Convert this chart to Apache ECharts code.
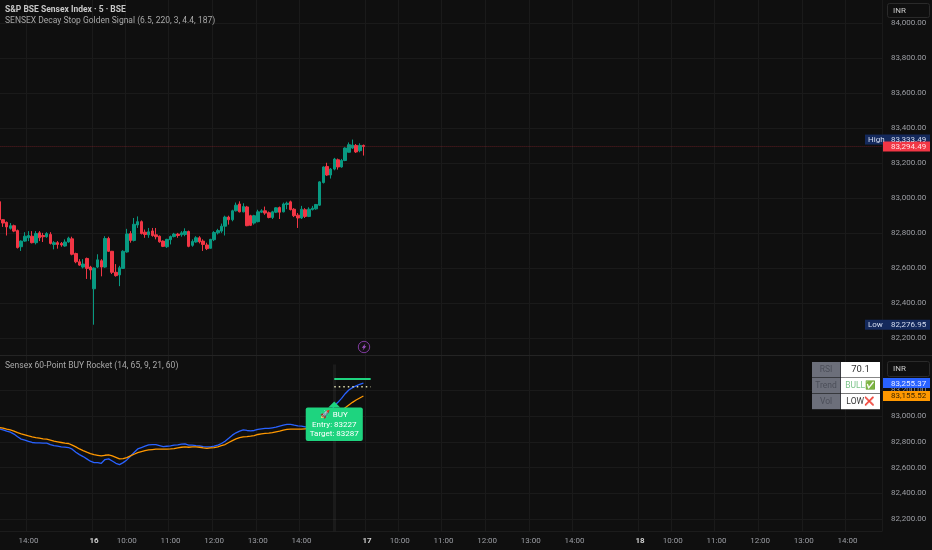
<!DOCTYPE html>
<html><head><meta charset="utf-8">
<style>html,body{margin:0;padding:0;background:#0f0f0f}#c{width:932px;height:550px}</style>
<script src="https://cdn.jsdelivr.net/npm/echarts@6/dist/echarts.min.js"></script>
</head><body><div id="c"></div>
<script>
const opens=[82979,82876,82861,82827,82842,82814,82722,82754,82773,82782,82745,82801,82786,82779,82792,82735,82745,82741,82726,82749,82767,82683,82636,82606,82655,82606,82482,82606,82642,82606,82769,82696,82576,82561,82598,82692,82797,82758,82846,82865,82805,82790,82812,82790,82782,82754,82722,82762,82780,82794,82790,82792,82809,82730,82749,82773,82754,82732,82713,82762,82801,82811,82839,82891,82876,82927,82966,82921,82949,82899,82857,82865,82919,82927,82916,82889,82919,82946,82921,82963,82978,82936,82902,82886,82933,82895,82934,82938,82959,83088,83180,83131,83165,83218,83177,83214,83261,83285,83300,83270,83300];
const closes=[82876,82857,82835,82842,82811,82717,82754,82782,82786,82745,82797,82773,82779,82797,82741,82745,82735,82732,82749,82771,82679,82636,82617,82623,82598,82589,82600,82647,82606,82769,82696,82576,82557,82602,82696,82795,82758,82850,82865,82797,82792,82807,82786,82779,82750,82724,82764,82780,82794,82786,82801,82809,82724,82752,82773,82750,82735,82711,82764,82803,82814,82839,82891,82876,82927,82959,82921,82951,82842,82844,82899,82921,82927,82914,82889,82921,82944,82919,82966,82970,82934,82899,82886,82936,82895,82936,82942,82963,83092,83177,83131,83165,83222,83177,83214,83285,83304,83302,83263,83300,83294.49];
const lows=[82870,82835,82786,82820,82805,82712,82698,82750,82754,82741,82735,82754,82749,82773,82735,82707,82711,82722,82722,82745,82673,82628,82613,82598,82538,82535,82276.95,82600,82553,82602,82692,82566,82551,82497,82595,82688,82745,82752,82829,82792,82773,82773,82779,82764,82745,82720,82715,82735,82775,82773,82779,82782,82719,82722,82745,82741,82698,82703,82711,82754,82792,82801,82786,82848,82867,82923,82918,82918,82839,82840,82848,82861,82914,82904,82884,82880,82914,82880,82918,82936,82929,82891,82829,82880,82886,82891,82929,82933,82955,83083,83126,83111,83158,83162,83173,83210,83259,83280,83257,83261,83242];
const highs=[82985,82880,82866,82857,82848,82820,82758,82805,82811,82811,82811,82811,82801,82805,82805,82754,82754,82749,82764,82779,82779,82688,82651,82651,82660,82613,82604,82679,82651,82782,82779,82698,82623,82613,82702,82824,82811,82886,82895,82872,82820,82829,82829,82829,82786,82758,82767,82786,82801,82801,82811,82827,82814,82764,82782,82782,82764,82745,82767,82811,82824,82854,82899,82899,82933,82974,82981,82970,82955,82904,82904,82933,82936,82951,82923,82927,82947,82951,82974,82979,82985,82942,82914,82955,82942,82947,82955,82966,83096,83180,83201,83171,83229,83225,83223,83289,83317,83333.49,83308,83312,83305];
const fastLine=[82901,82893,82883,82875,82860,82839,82821,82813,82803,82795,82792,82792,82790,82790,82779,82771,82766,82761,82759,82756,82743,82720,82701,82686,82668,82650,82639,82639,82634,82663,82668,82652,82634,82624,82639,82660,82688,82717,82745,82756,82766,82776,82779,82779,82771,82763,82766,82769,82774,82776,82782,82784,82774,82774,82771,82769,82763,82761,82761,82766,82774,82787,82805,82828,82852,82870,82883,82893,82888,82885,82888,82896,82901,82904,82904,82909,82914,82922,82929,82935,82935,82929,82924,82922,82916,82916,82919,82924,82942,82968,83002,83028,83080,83106,83137,83173,83202,83220,83233,83246,83255.37];
const slowLine=[82911,82906,82898,82893,82883,82872,82862,82854,82846,82839,82833,82828,82823,82821,82813,82805,82800,82795,82790,82787,82774,82761,82745,82732,82720,82709,82701,82696,82691,82696,82699,82691,82680,82668,82670,82678,82691,82704,82717,82725,82732,82737,82740,82743,82743,82743,82743,82745,82748,82753,82758,82761,82758,82761,82761,82758,82753,82750,82753,82756,82761,82771,82779,82795,82810,82823,82833,82839,82841,82844,82849,82857,82862,82865,82867,82872,82878,82883,82891,82896,82898,82898,82898,82898,82901,82904,82906,82911,82922,82937,82955,82974,82992,83015,83038,83064,83085,83106,83124,83140,83155.52];
const tickIndex=[8,26,35,47,59,71,83,101,110,122,134,146,158,176,185,197,209,221,233];
const tickText=['14:00','16','10:00','11:00','12:00','13:00','14:00','17','10:00','11:00','12:00','13:00','14:00','18','10:00','11:00','12:00','13:00','14:00'];
const boldTicks=['16','17','18'];
const barCount=243;
const signalIndex=92, signalEnd=102, entryPrice=83227, targetPrice=83287;
const lastPrice=83294.49, highPrice=83333.49, lowPrice=82276.95, fastLast=83255.37, slowLast=83155.52;
const tableRows=[['RSI','70.1'],['Trend','BULL✅'],['Vol','LOW❌']];

const FONT='Roboto, "Liberation Sans", sans-serif';
const categories=Array.from({length:barCount},(_,i)=>String(i));
const tickMap=new Map(tickIndex.map((k,i)=>[k,tickText[i]]));
const GRID='#1a1a1a', TXT='#9c9ea4';
const chart=echarts.init(document.getElementById('c'),null,{width:932,height:550});
const L=-2.42,W=884.5;
const hiddenX=(g)=>({type:'category',gridIndex:g,data:categories,show:false});
const fmt=v=>v.toLocaleString('en-US',{minimumFractionDigits:2,maximumFractionDigits:2});
const yAx=(g,min,max)=>({type:'value',gridIndex:g,position:'right',min,max,interval:200,scale:true,
  axisLine:{show:false},axisTick:{show:false},
  axisLabel:{show:true,margin:9,color:TXT,fontSize:8,fontFamily:FONT,showMinLabel:false,showMaxLabel:false,formatter:fmt},
  splitLine:{show:true,showMinLine:false,showMaxLine:false,lineStyle:{color:GRID,width:1}}});
chart.setOption({
  animation:false,backgroundColor:'#0f0f0f',
  grid:[
    {left:L,width:W,top:-12.3,height:385.55,outerBoundsMode:'none'},
    {left:L,width:W,top:364.4,height:180.7,outerBoundsMode:'none'},
    {left:L,width:W,top:0,height:531,outerBoundsMode:'none'}
  ],
  xAxis:[hiddenX(0),hiddenX(1),{
    type:'category',gridIndex:2,data:categories,position:'bottom',
    axisLine:{show:true,lineStyle:{color:'#1c1c1c'}},axisTick:{show:false},
    splitLine:{show:true,interval:i=>tickMap.has(i),lineStyle:{color:GRID}},
    axisLabel:{show:true,interval:i=>tickMap.has(i),margin:6,fontSize:8,fontFamily:FONT,hideOverlap:false,
      formatter:(v,i)=>{const t=tickMap.get(i)||'';return boldTicks.includes(t)?'{b|'+t+'}':'{n|'+t+'}';},
      rich:{n:{color:TXT,fontSize:8,fontFamily:FONT},b:{color:'#d0d0d0',fontSize:8,fontWeight:'bold',fontFamily:FONT}}}
  }],
  yAxis:[yAx(0,82000,84200),yAx(1,82000,83400),{type:'value',gridIndex:2,show:false,min:0,max:1}],
  series:[
    {type:'candlestick',name:'SENSEX',xAxisIndex:0,yAxisIndex:0,barWidth:3,
     data:opens.map((o,i)=>[o,closes[i],lows[i],highs[i]]),
     itemStyle:{color:'#089981',color0:'#f23645',borderColor:'#089981',borderColor0:'#f23645',borderWidth:1},
     markLine:{silent:true,symbol:'none',label:{show:false},lineStyle:{color:'rgba(242,54,69,0.35)',type:'dotted',width:1},data:[{yAxis:lastPrice}]}},
    {type:'line',name:'Fast',xAxisIndex:1,yAxisIndex:1,data:fastLine,showSymbol:false,symbol:'none',lineStyle:{color:'#2962ff',width:1.3},
     markLine:{silent:true,symbol:'none',label:{show:false},lineStyle:{color:'rgba(255,255,255,0.05)',type:'solid',width:3},
       data:[[{coord:[signalIndex,83400]},{coord:[signalIndex,82107]}]]}},
    {type:'line',name:'Slow',xAxisIndex:1,yAxisIndex:1,data:slowLine,showSymbol:false,symbol:'none',lineStyle:{color:'#ff9800',width:1.3}},
    {type:'line',name:'Target',xAxisIndex:1,yAxisIndex:1,showSymbol:false,symbol:'none',lineStyle:{color:'#1ed47f',width:2},
     data:[[signalIndex,targetPrice],[signalEnd,targetPrice]]},
    {type:'line',name:'Entry',xAxisIndex:1,yAxisIndex:1,showSymbol:false,symbol:'none',lineStyle:{color:'#dcdcb0',width:1.4,type:[1.5,3]},
     data:[[signalIndex,entryPrice],[signalEnd,entryPrice]],
     markPoint:{silent:true,symbol:'triangle',symbolSize:[12,6],itemStyle:{color:'#1ed47f'},
       label:{show:true,position:'bottom',distance:0,color:'#fff',fontSize:8,fontFamily:FONT+',"Noto Color Emoji"',lineHeight:9.5,align:'center',
         backgroundColor:'#1ed47f',borderRadius:2,padding:[3,4,2,4],
         formatter:'🚀 BUY\nEntry: '+entryPrice+'\nTarget: '+targetPrice},
       data:[{coord:[signalIndex,83090]}]}}
  ]
});
const py=(g,v)=>chart.convertToPixel({yAxisIndex:g},v);
const g=[];
const text=(x,y,t,o={})=>g.push({type:'text',x,y,z:30,style:Object.assign({text:t,fill:TXT,fontSize:8,fontFamily:FONT,textVerticalAlign:'middle',textAlign:'left'},o)});
const rect=(x,y,w,h,fill,o={})=>g.push({type:'rect',z:29,shape:{x,y,width:w,height:h,r:o.r||0},style:{fill,stroke:o.stroke,lineWidth:o.stroke?1:0}});
// headers
text(5,10,'S&P BSE Sensex Index · 5 · BSE',{fill:'#c8c8c8',fontWeight:'bold',fontSize:8.5});
text(5,20.5,'SENSEX Decay Stop Golden Signal (6.5, 220, 3, 4.4, 187)',{fontSize:8.5,fill:'#a8a8a8'});
text(5,365.5,'Sensex 60-Point BUY Rocket (14, 65, 9, 21, 60)',{fontSize:8.5,fill:'#a8a8a8'});
// divider
g.push({type:'line',z:5,shape:{x1:0,y1:355.5,x2:932,y2:355.5},style:{stroke:'#242424',lineWidth:1}});
// currency boxes
rect(887.5,3.5,42,14,'#0f0f0f',{stroke:'#2a2a2a',r:2});text(893,10.5,'INR',{fill:'#c8c8c8'});
rect(887.5,361.5,42,15,'#0f0f0f',{stroke:'#2a2a2a',r:2});text(893,369,'INR',{fill:'#c8c8c8'});
// tags
const tag=(v,pg,fill,col,label)=>{const y=py(pg,v);
  if(label){rect(865,y-5,18,10,fill);text(868,y+.5,label,{fill:'#d5ddf0'});}
  rect(883,y-5,47,10,fill);text(891,y+.5,fmt(v),{fill:col});};
tag(highPrice,0,'#14295c','#d5ddf0','High');
tag(lastPrice,0,'#f23645','#ffe0e3');
tag(lowPrice,0,'#14295c','#d5ddf0','Low');
tag(fastLast,1,'#2962ff','#e6ecff');
tag(slowLast,1,'#ff9800','#3b2500');
// alert icon
g.push({type:'circle',z:20,shape:{cx:364,cy:347,r:5.7},style:{fill:'#141014',stroke:'#7d3a9c',lineWidth:1}});
g.push({type:'polygon',z:21,shape:{points:[[365.5,343.5],[361.8,347.8],[363.7,347.8],[362.6,350.5],[366.3,346.3],[364.4,346.3]]},style:{fill:'#a052c8'}});
// status table
tableRows.forEach((r,i)=>{const y=362+i*15.9;
  rect(812,y,28.5,15.4,'#6c6f7a');rect(841,y,39,15.4,'#ffffff');
  text(826,y+8,r[0],{textAlign:'center',fill:'#4b4e58',fontSize:8.5});
  const isBull=r[0]==='Trend';
  text(860.5,y+8,r[1],{textAlign:'center',fill:isBull?'#7cc48a':'#333',fontSize:i===0?9.5:8.5,fontFamily:FONT+',"Noto Color Emoji"'});
});
chart.setOption({graphic:g});
</script></body></html>
